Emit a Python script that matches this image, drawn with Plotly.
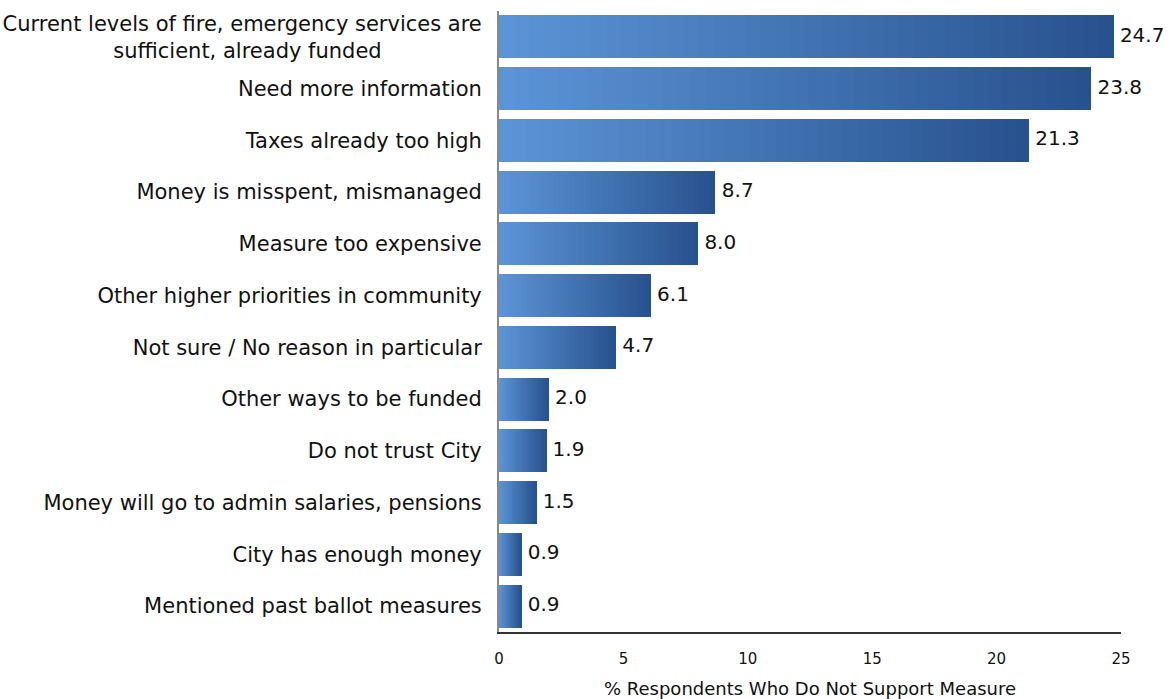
import plotly.graph_objects as go

categories = [
    "Current levels of fire, emergency services are<br>sufficient, already funded" + "\u00a0" * 15,
    "Need more information",
    "Taxes already too high",
    "Money is misspent, mismanaged",
    "Measure too expensive",
    "Other higher priorities in community",
    "Not sure / No reason in particular",
    "Other ways to be funded",
    "Do not trust City",
    "Money will go to admin salaries, pensions",
    "City has enough money",
    "Mentioned past ballot measures",
]
values = [24.7, 23.8, 21.3, 8.7, 8.0, 6.1, 4.7, 2.0, 1.9, 1.5, 0.9, 0.9]
value_labels = ["24.7", "23.8", "21.3", "8.7", "8.0", "6.1", "4.7", "2.0", "1.9", "1.5", "0.9", "0.9"]
x_ticks = [0, 5, 10, 15, 20, 25]

light = (91, 148, 215)
dark = (40, 82, 142)
N = 40

fig = go.Figure()
for i in range(N):
    t = i / (N - 1)
    c = tuple(round(light[k] + (dark[k] - light[k]) * t) for k in range(3))
    color = "rgb(%d,%d,%d)" % c
    fig.add_trace(go.Bar(
        y=categories, x=[v / N for v in values], orientation="h",
        marker=dict(color=color, line=dict(width=0)),
        showlegend=False, hoverinfo="skip",
    ))

fig.add_trace(go.Scatter(
    y=categories, x=values, mode="text", text=[" " + s for s in value_labels],
    textposition="middle right", cliponaxis=False,
    textfont=dict(family="DejaVu Sans", size=20, color="#111111"),
    showlegend=False, hoverinfo="skip",
))

fig.update_layout(
    width=1176, height=699,
    barmode="stack", bargap=0.17,
    plot_bgcolor="white", paper_bgcolor="white",
    margin=dict(l=499, r=55, t=11, b=67),
    font=dict(family="DejaVu Sans", color="#111111"),
)
fig.update_yaxes(
    categoryorder="array", categoryarray=categories,
    range=[len(categories) - 0.5, -0.5],
    showline=True, linecolor="#888888", linewidth=2,
    showgrid=False, ticks="", tickfont=dict(size=21, color="#111111"),
    ticklabelstandoff=11, automargin=False,
)
fig.update_xaxes(
    range=[0, 25], tickvals=x_ticks, ticktext=[str(t) for t in x_ticks],
    showline=True, linecolor="#333333", linewidth=1.5,
    showgrid=False, zeroline=False, ticks="",
    tickfont=dict(size=15, color="#111111"),
    title=dict(text="% Respondents Who Do Not Support Measure", font=dict(size=18, color="#111111"), standoff=20),
    ticklabelstandoff=12, automargin=False,
)

fig.write_html("out.html")
